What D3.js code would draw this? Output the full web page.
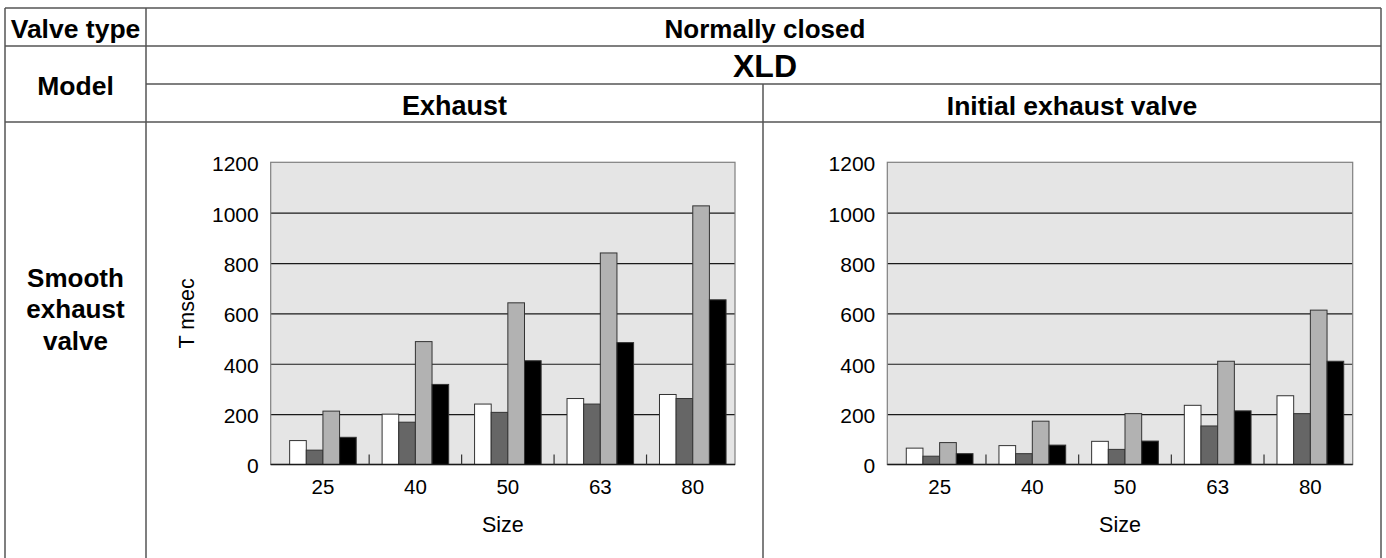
<!DOCTYPE html>
<html><head><meta charset="utf-8">
<script src="https://cdn.jsdelivr.net/npm/d3@7"></script>
<style>
html,body{margin:0;padding:0;background:#fff;}
svg text{font-family:"Liberation Sans",Arial,Helvetica,sans-serif;fill:#000;}
</style></head>
<body><svg id="c" width="1386" height="558"></svg>
<script>
// ---- data ----
const sizes = ["25", "40", "50", "63", "80"];
const yTicks = [0, 200, 400, 600, 800, 1000, 1200];
const seriesNames = ["s1", "s2", "s3", "s4"];
// Exhaust chart
const exhaustS1 = [95, 200, 240, 262, 278];
const exhaustS2 = [57, 168, 207, 240, 262];
const exhaustS3 = [212, 488, 642, 840, 1027];
const exhaustS4 = [108, 318, 412, 484, 654];
// Initial exhaust valve chart
const initialS1 = [65, 75, 92, 235, 273];
const initialS2 = [33, 43, 60, 153, 202];
const initialS3 = [87, 172, 202, 410, 613];
const initialS4 = [43, 77, 93, 213, 410];
const yTitle = "T msec";
const xTitle = "Size";

// ---- drawing ----
const svg = d3.select("#c");
const colors = ["#ffffff", "#666666", "#b2b2b2", "#000000"];
const lineCol = "#555";

// table lines
const hl = [[5,1381,8],[5,1381,46],[146,1381,84],[5,1381,122]];
hl.forEach(([x1,x2,y])=>svg.append("line").attr("x1",x1).attr("x2",x2).attr("y1",y).attr("y2",y)
  .attr("stroke",lineCol).attr("stroke-width",1.5));
const vl = [[5,8],[146,8],[1381,8],[763,84]];
vl.forEach(([x,y1])=>svg.append("line").attr("x1",x).attr("x2",x).attr("y1",y1).attr("y2",558)
  .attr("stroke",lineCol).attr("stroke-width",1.5));

function txt(x,y,s,size,bold){
  return svg.append("text").attr("x",x).attr("y",y).attr("text-anchor","middle")
    .attr("font-size",size).attr("font-weight",bold?"bold":"normal").text(s);
}
txt(75.5,38,"Valve type",26.5,true);
txt(765,38,"Normally closed",26,true);
txt(75.5,95,"Model",26.5,true);
txt(765,77,"XLD",32,true);
txt(454.5,115,"Exhaust",27,true);
txt(1072,115,"Initial exhaust valve",26.5,true);
const lbl = svg.append("text").attr("text-anchor","middle").attr("font-size",26).attr("font-weight","bold");
["Smooth","exhaust","valve"].forEach((s,i)=>lbl.append("tspan").attr("x",75.5).attr("y",286.7+i*31.7).text(s));

function chart(x0, x1, data, showYTitle){
  const top = 162.3, bottom = 464.5;
  const g = svg.append("g");
  const y = d3.scaleLinear().domain([0,1200]).range([bottom, top]);
  const x = d3.scaleBand().domain(sizes).range([x0+6, x1+4]).paddingInner(0).paddingOuter(0);
  const inner = d3.scaleBand().domain(seriesNames).range([0, x.bandwidth()*0.72]);
  const gOff = (x.bandwidth() - x.bandwidth()*0.72)/2;
  g.append("rect").attr("x",x0).attr("y",top).attr("width",x1-x0).attr("height",bottom-top)
    .attr("fill","#e5e5e5");
  g.append("g").attr("transform",`translate(${x0},0)`)
    .call(d3.axisLeft(y).tickValues(yTicks.slice(1,-1)).tickSize(-(x1-x0)).tickFormat(""))
    .call(a=>a.select(".domain").remove())
    .call(a=>a.selectAll("line").attr("stroke","#1a1a1a").attr("stroke-width",1.2));
  g.append("rect").attr("x",x0).attr("y",top).attr("width",x1-x0).attr("height",bottom-top)
    .attr("fill","none").attr("stroke","#7f7f7f").attr("stroke-width",1.2);
  data.forEach((vals, si)=>{
    g.selectAll(null).data(vals).join("rect")
      .attr("x",(d,i)=>x(sizes[i]) + gOff + inner(seriesNames[si]))
      .attr("y",d=>y(d))
      .attr("width",inner.bandwidth())
      .attr("height",d=>bottom-y(d))
      .attr("fill",colors[si]).attr("stroke","#333").attr("stroke-width",1);
  });
  g.append("line").attr("x1",x0).attr("x2",x1).attr("y1",bottom).attr("y2",bottom)
    .attr("stroke","#1a1a1a").attr("stroke-width",1.4);
  g.selectAll(null).data(sizes.slice(1)).join("line")
    .attr("x1",d=>x(d)).attr("x2",d=>x(d)).attr("y1",bottom).attr("y2",bottom-10)
    .attr("stroke","#333").attr("stroke-width",1.2);
  g.append("g").attr("transform",`translate(${x0},0)`)
    .call(d3.axisLeft(y).tickValues(yTicks).tickSize(0).tickPadding(12).tickFormat(d3.format("d")))
    .call(a=>a.select(".domain").remove())
    .call(a=>a.selectAll("text").attr("font-size",21).attr("dy","0.4em").attr("font-family","Liberation Sans, Arial, sans-serif").attr("fill","#000"));
  g.append("g").attr("transform",`translate(0,${bottom})`)
    .call(d3.axisBottom(x).tickSize(0).tickPadding(15))
    .call(a=>a.select(".domain").remove())
    .call(a=>a.selectAll("text").attr("font-size",20.5).attr("font-family","Liberation Sans, Arial, sans-serif").attr("fill","#000"));
  g.append("text").attr("x",(x0+x1)/2).attr("y",532).attr("text-anchor","middle").attr("font-size",21.5).text(xTitle);
  if(showYTitle){
    g.append("text").attr("transform",`translate(194,${(top+bottom)/2}) rotate(-90)`)
      .attr("text-anchor","middle").attr("font-size",21.5).text(yTitle);
  }
}
chart(270.7, 735, [exhaustS1, exhaustS2, exhaustS3, exhaustS4], true);
chart(887.3, 1352.7, [initialS1, initialS2, initialS3, initialS4], false);
</script></body></html>
